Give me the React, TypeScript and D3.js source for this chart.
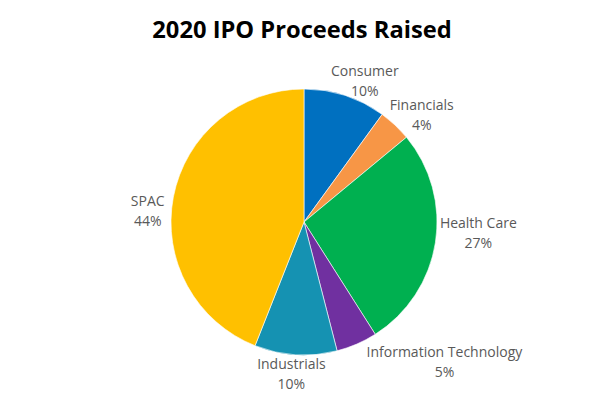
import { useMemo } from 'react';
import * as d3 from 'd3';

const W = 596;
const H = 396;

const sectors = ['Consumer', 'Financials', 'Health Care', 'Information Technology', 'Industrials', 'SPAC'];
const shares = [10, 4, 27, 5, 10, 44];
const sliceColors = ['#0070C0', '#F79646', '#00B050', '#7030A0', '#1592B2', '#FFC000'];

const title = '2020 IPO Proceeds Raised';
const labelSize = 14;
const labelFont = `${labelSize}px "Open Sans", sans-serif`;

const specs = {
  cx: 304,
  cy: 222,
  radius: 133,
  labelGap: 3,
  labelDist: 150,
  skew: 10,
};

const measure = (() => {
  const ctx = document.createElement('canvas').getContext('2d');
  return (txt: string) => {
    if (!ctx) return txt.length * 7;
    ctx.font = labelFont;
    return ctx.measureText(txt).width;
  };
})();

const clamp = (v: number) => Math.max(-1, Math.min(1, v));

const App = () => {
  const data = sectors.map((name, i) => ({ name, value: shares[i] }));

  const arcs = useMemo(() => {
    const pie = d3.pie<{ name: string; value: number }>().value((d) => d.value).sort(null);
    return pie(data);
  }, []);

  const color = d3.scaleOrdinal<string, string>().domain(sectors).range(sliceColors);
  const arcGen = d3.arc<d3.PieArcDatum<{ name: string; value: number }>>()
    .innerRadius(0)
    .outerRadius(specs.radius);

  return (
    <svg width={W} height={H} style={{ position: 'absolute', left: 0, top: 0, background: '#fff' }}>
      <text
        x={302}
        y={38}
        textAnchor="middle"
        fontFamily='"Open Sans", sans-serif'
        fontWeight={700}
        fontSize={23.7}
        fill="#000"
      >
        {title}
      </text>
      <g transform={`translate(${specs.cx}, ${specs.cy})`}>
        {arcs.map((a) => (
          <path key={a.data.name} d={arcGen(a) || ''} fill={color(a.data.name)} stroke="#fff" strokeWidth={0.6} />
        ))}
        {arcs.map((a) => {
          const mid = (a.startAngle + a.endAngle) / 2;
          const s = Math.sin(mid);
          const c = Math.cos(mid);
          const pct = `${d3.format('.0f')(a.data.value)}%`;
          const w = Math.max(measure(a.data.name), measure(pct));
          // label box sits outside the slice, pulled toward the middle line near the sides
          const side = clamp(s * 2.5);
          const gap = specs.labelGap + (s < 0 ? 4 : 0);
          const x = (specs.radius + gap) * s + (w / 2) * side - specs.skew * c * Math.abs(side);
          const y = -specs.labelDist * c * Math.min(1, Math.abs(c) * 2.5) + 2;
          return (
            <text
              key={a.data.name}
              textAnchor="middle"
              fontFamily='"Open Sans", sans-serif'
              fontSize={labelSize}
              fill="#595959"
            >
              <tspan x={x} y={y - 5}>{a.data.name}</tspan>
              <tspan x={x} y={y + 15}>{pct}</tspan>
            </text>
          );
        })}
      </g>
    </svg>
  );
};

export default App;
